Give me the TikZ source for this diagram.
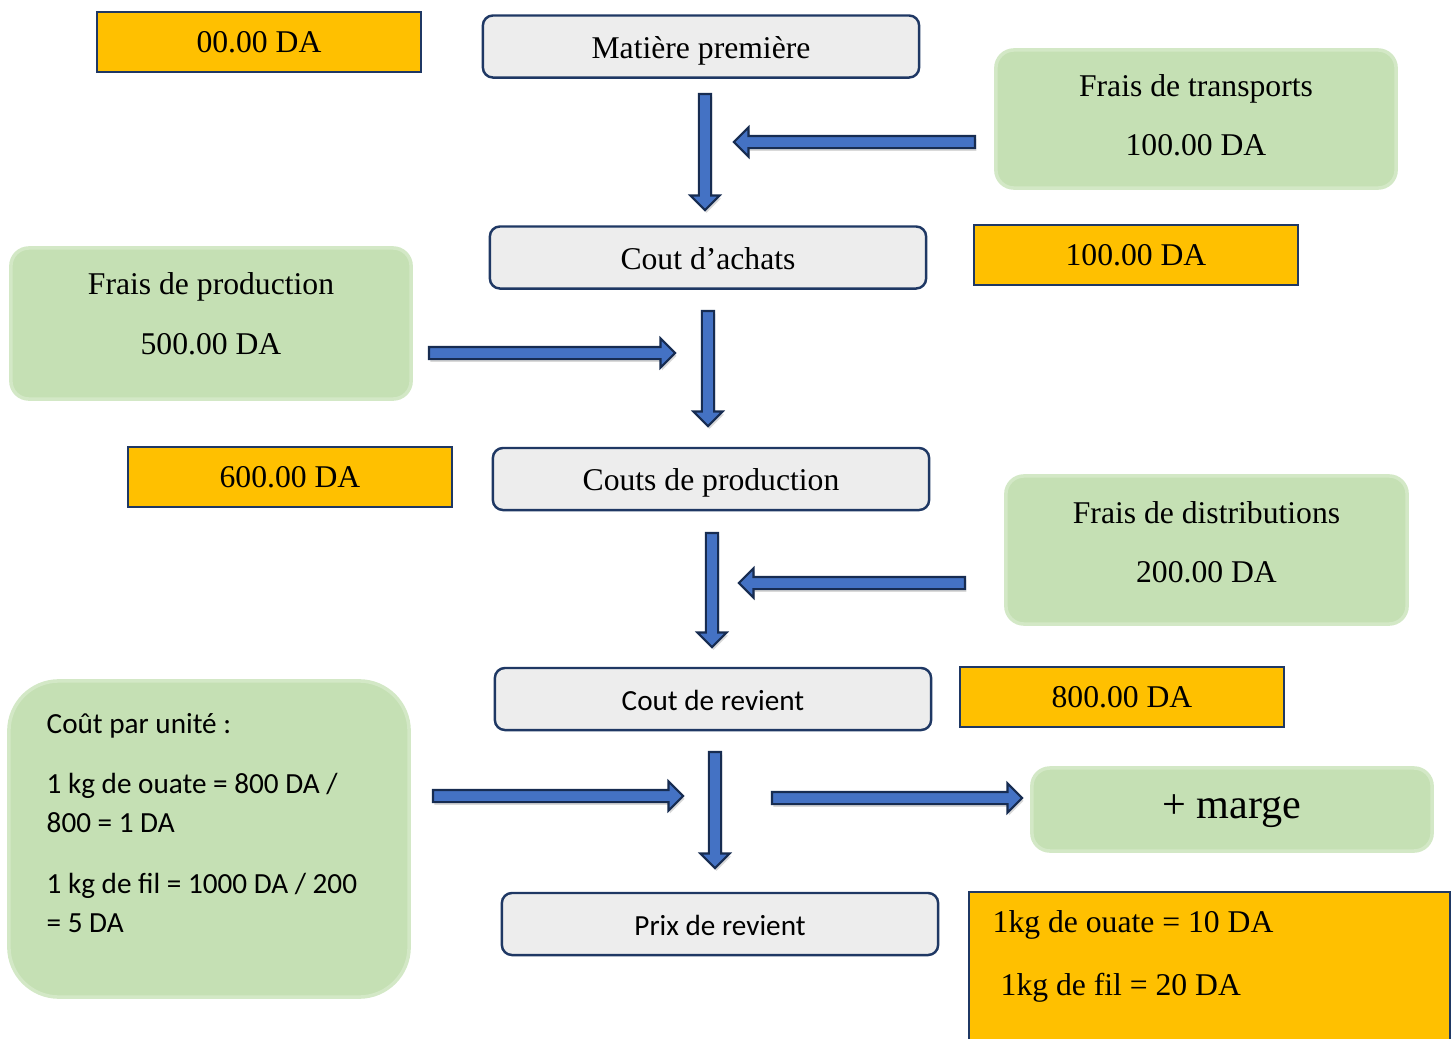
\documentclass[tikz,border=0pt]{standalone}
\usepackage{fontspec}
\setmainfont{Liberation Serif}
\newfontfamily\calibri{Carlito}
\usetikzlibrary{shapes.arrows}
\usetikzlibrary{shadows}

\definecolor{orangeDA}{HTML}{FFC000}
\definecolor{navyDA}{HTML}{1F3864}
\definecolor{grisEtape}{HTML}{EDEDED}
\definecolor{vertFrais}{HTML}{C5E0B4}
\definecolor{vertClair}{HTML}{D3E8C6}
\definecolor{bleuFleche}{HTML}{4472C4}
\definecolor{bordFleche}{HTML}{172C51}

\begin{document}
\begin{tikzpicture}[x = 0.01cm, y = -0.01cm,
etape/.style = {shape = rectangle, rounded corners = 0.1cm, draw = navyDA, fill = grisEtape, line width = 0.7pt, minimum width = 4.36cm, minimum height = 0.62cm, inner sep = 0cm, text height = 0.68em, text depth = 0pt, font = \fontsize{9}{11}\selectfont},
etapesans/.style = {etape, font = \calibri\fontsize{8.3}{10}\selectfont},
montant/.style = {shape = rectangle, draw = navyDA, fill = orangeDA, line width = 0.7pt, minimum width = 3.24cm, minimum height = 0.6cm, inner sep = 0cm, font = \fontsize{9}{11}\selectfont},
frais/.style = {shape = rectangle, rounded corners = 0.18cm, draw = vertClair, fill = vertFrais, line width = 1pt, minimum width = 4cm, inner sep = 0cm, align = center, font = \fontsize{9}{11}\selectfont},
notes/.style = {anchor = north west, align = left, inner sep = 0cm},
fleche/.style = {shape = single arrow, draw = bordFleche, fill = bleuFleche, line width = 0.6pt, inner sep = 0.05cm, single arrow head extend = 0.085cm, drop shadow = {shadow xshift = 0.4pt, shadow yshift = -0.8pt, opacity = 0.3}},
]
\useasboundingbox (0, 0) rectangle (1453, 1039);

\node[montant] (m0) at (259, 42) {00.00 DA};
\node[etape] (matiere) at (701, 46.5) {Matière première};
\node[frais, minimum height = 1.38cm, text depth = 0.08cm] (transports) at (1196, 119) {Frais de transports\\[6pt]100.00 DA};

\node[etape] (achats) at (708, 257.5) {Cout d’achats};
\node[montant] (m1) at (1136, 255) {100.00 DA};
\node[frais, minimum height = 1.51cm, text depth = 0.2cm] (production) at (211, 323.5) {Frais de production\\[6pt]500.00 DA};

\node[montant] (m2) at (290, 477) {600.00 DA};
\node[etape] (coutprod) at (711, 479) {Couts de production};
\node[frais, minimum height = 1.48cm, minimum width = 4.01cm, text depth = 0.16cm] (distribution) at (1206.5, 550) {Frais de distributions\\[6pt]200.00 DA};

\node[etapesans] (revient) at (713, 699) {Cout de revient};
\node[montant] (m3) at (1122, 697) {800.00 DA};
\node[frais, minimum height = 3.16cm, rounded corners = 0.5cm] (unite) at (209, 839) {};
\node[notes, font = \calibri\fontsize{8.3}{11.1}\selectfont] (uniteTxt) at (46, 713) {Coût par unité :\\[6pt]1 kg de ouate = 800 DA /\\800 = 1 DA\\[6pt]1 kg de fil = 1000 DA / 200\\= 5 DA};
\node[frais, minimum height = 0.83cm, text depth = 0.06cm, font = \fontsize{12}{14}\selectfont] (marge) at (1232, 809.5) {+ marge};

\node[etapesans] (prix) at (720, 924) {Prix de revient};
\node[montant, minimum width = 4.81cm, minimum height = 1.58cm] (pv) at (1209.5, 971) {};
\node[notes, font = \fontsize{9}{17.9}\selectfont] (pvTxt) at (992, 910) {1kg de ouate = 10 DA\\\hspace*{0.08cm}1kg de fil = 20 DA};

\node[fleche, rotate = -90, minimum height = 1.16cm] (f1) at (705, 149) {};
\node[fleche, rotate = 180, minimum height = 2.41cm] (f2) at (857.5, 142) {};
\node[fleche, minimum height = 2.46cm] (f3) at (549, 353) {};
\node[fleche, rotate = -90, minimum height = 1.15cm] (f4) at (708, 365.5) {};
\node[fleche, rotate = -90, minimum height = 1.14cm] (f5) at (712, 587) {};
\node[fleche, rotate = 180, minimum height = 2.26cm] (f6) at (855, 583) {};
\node[fleche, minimum height = 2.5cm] (f7) at (555, 796) {};
\node[fleche, rotate = -90, minimum height = 1.16cm] (f8) at (715, 807) {};
\node[fleche, minimum height = 2.5cm] (f9) at (894, 798) {};
\end{tikzpicture}
\end{document}
